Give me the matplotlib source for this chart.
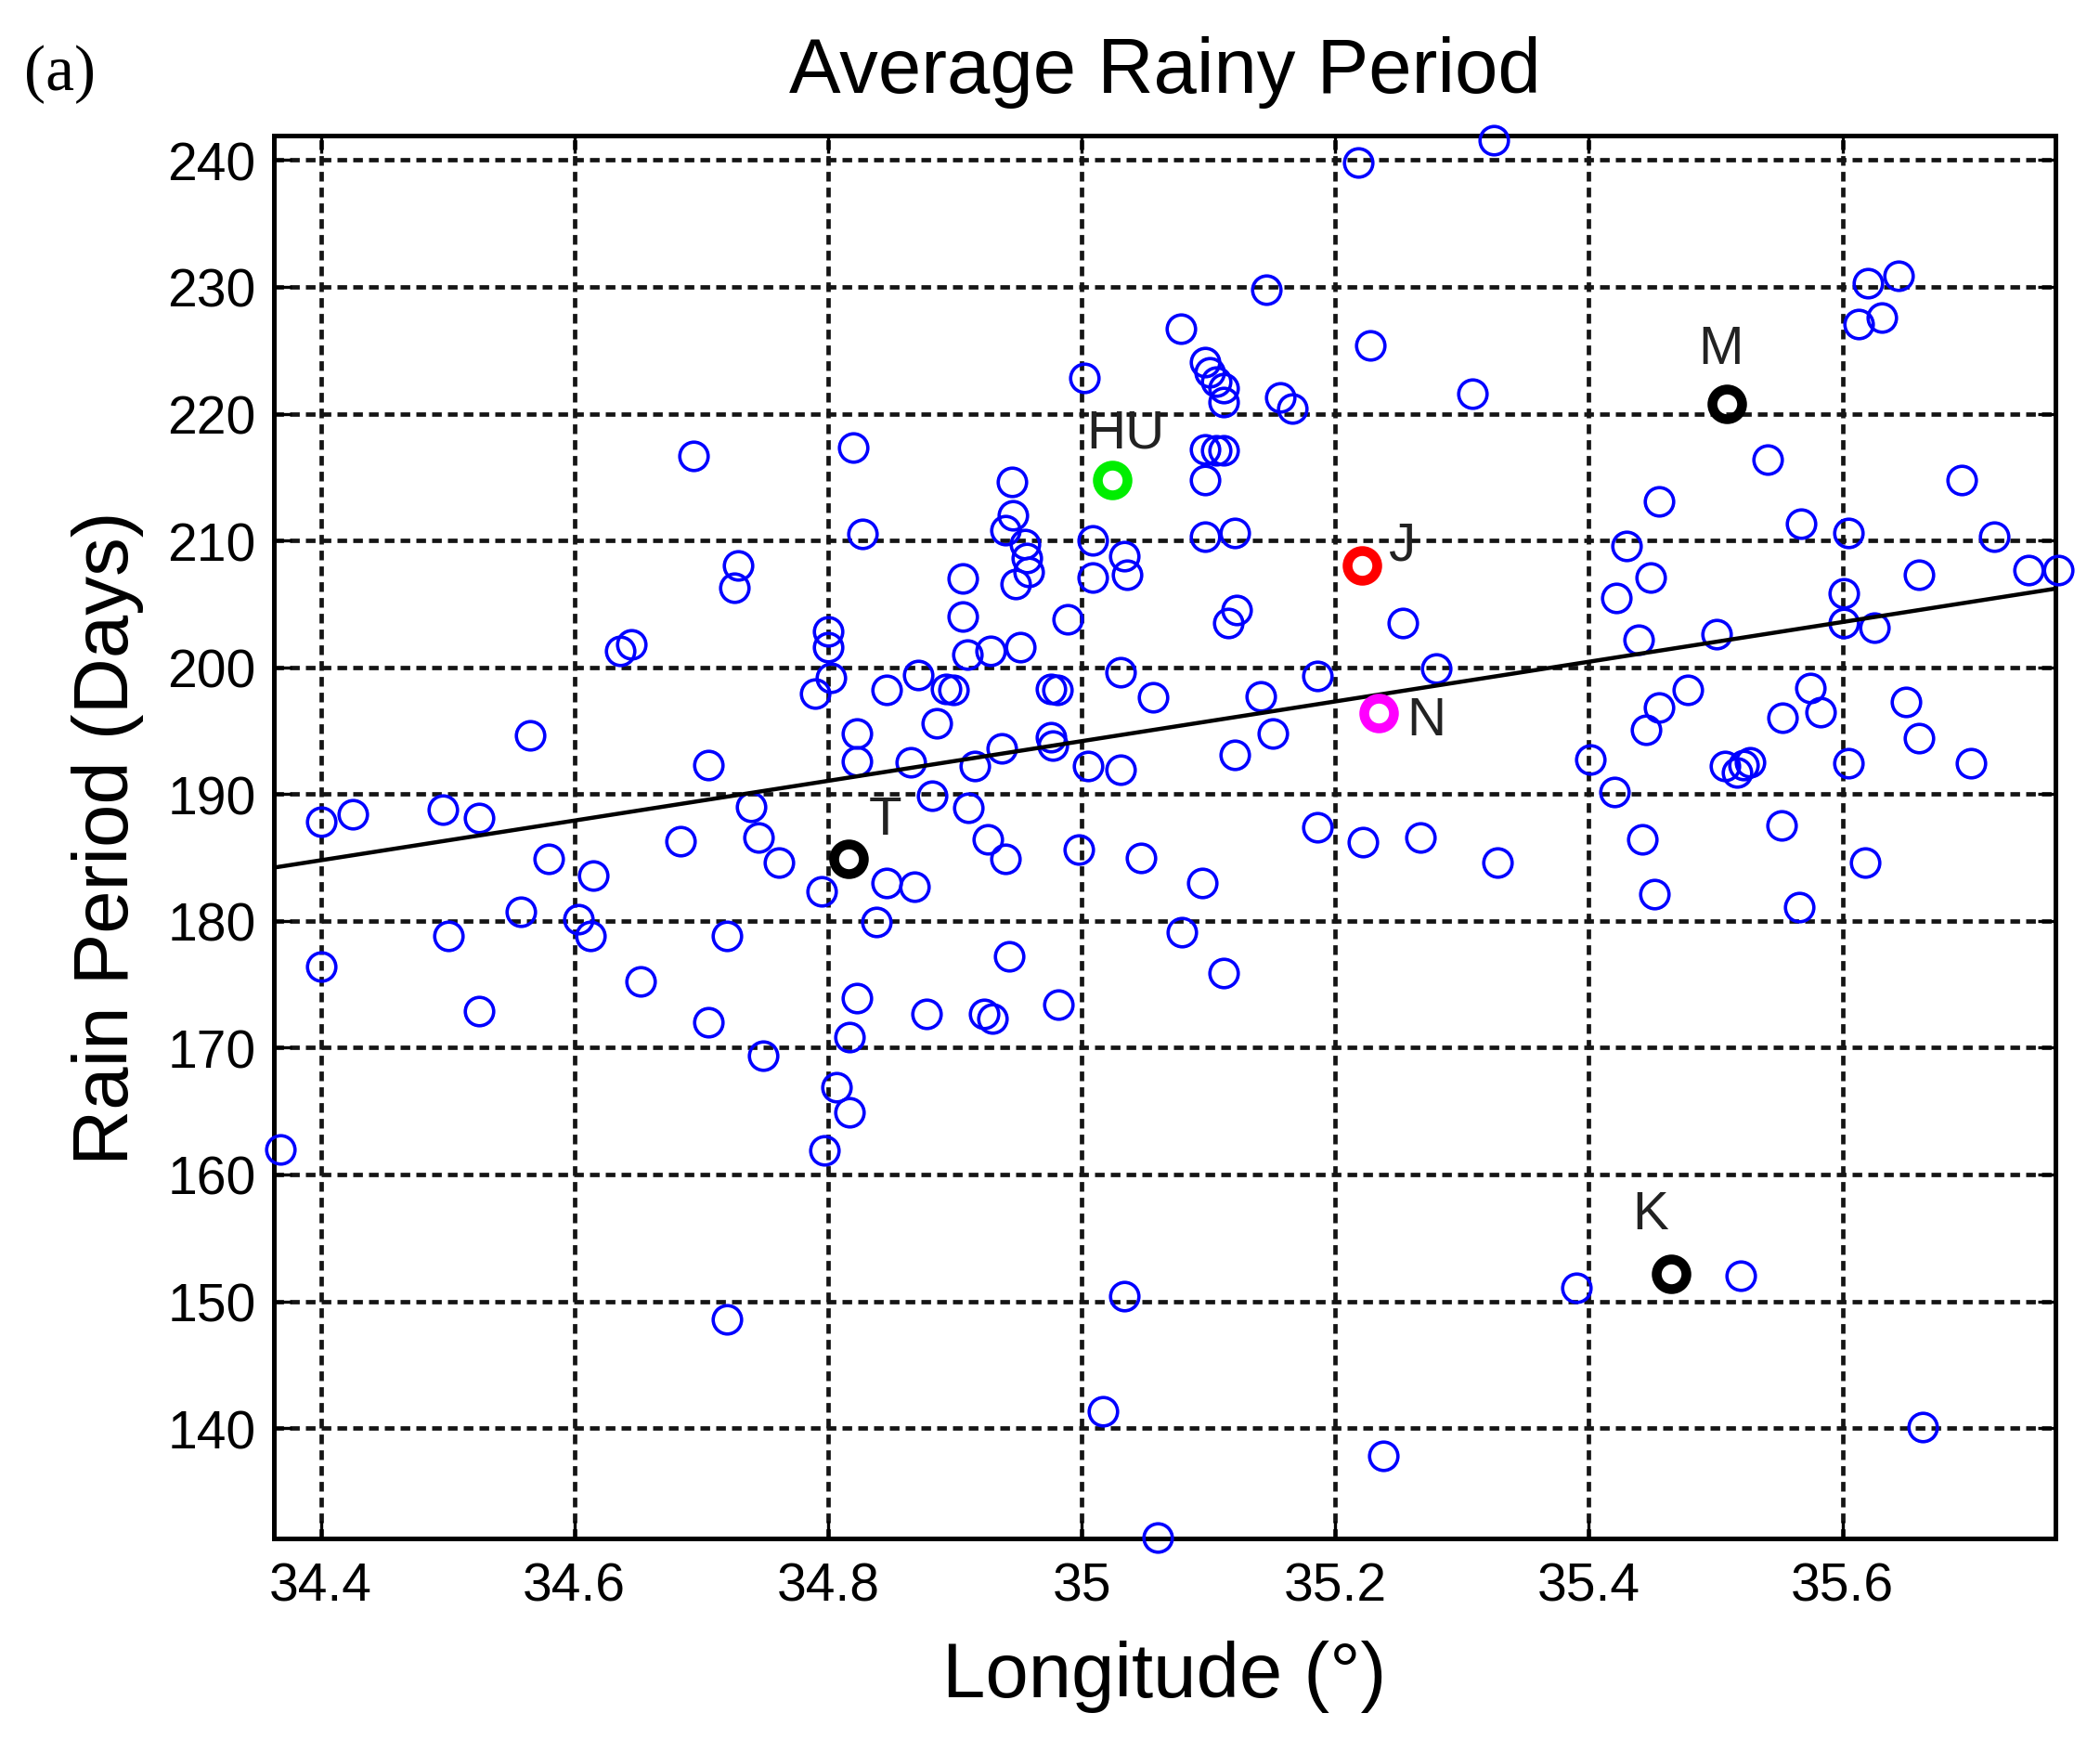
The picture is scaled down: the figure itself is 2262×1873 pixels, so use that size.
import numpy as np
import matplotlib
matplotlib.use("Agg")
import matplotlib.pyplot as plt
from matplotlib.ticker import FuncFormatter

plt.rcParams['font.family'] = ['Liberation Sans', 'DejaVu Sans']

# stations (blue circles): longitude and mean rainy period in days
lon = [34.368, 34.400, 34.400, 34.425, 34.496, 34.525, 34.501, 34.525, 34.565, 34.580,
       34.558, 34.603, 34.613, 34.615, 34.636, 34.645, 34.652, 34.684, 34.694, 34.706,
       34.706, 34.729, 34.726, 34.720, 34.720, 34.739, 34.745, 34.761, 34.749, 34.790,
       34.800, 34.800, 34.802, 34.795, 34.807, 34.817, 34.797, 34.817, 34.823, 34.820,
       34.827, 34.823, 34.823, 34.838, 34.846, 34.868, 34.846, 34.871, 34.865, 34.886,
       34.882, 34.878, 34.893, 34.899, 34.906, 34.906, 34.910, 34.911, 34.916, 34.926,
       34.940, 34.923, 34.930, 34.943, 34.928, 34.946, 34.940, 34.955, 34.957, 34.958,
       34.948, 34.945, 34.952, 34.937, 34.976, 34.981, 34.976, 34.977, 34.989, 34.982,
       34.998, 35.002, 35.009, 35.009, 35.005, 35.031, 35.034, 35.036, 35.031, 35.047,
       35.056, 35.034, 35.017, 35.060, 35.078, 35.079, 35.095, 35.097, 35.101, 35.106,
       35.112, 35.112, 35.097, 35.097, 35.106, 35.112, 35.097, 35.121, 35.122, 35.116,
       35.121, 35.112, 35.146, 35.157, 35.166, 35.141, 35.151, 35.186, 35.186, 35.218,
       35.228, 35.222, 35.253, 35.280, 35.267, 35.238, 35.308, 35.325, 35.328, 35.401,
       35.420, 35.390, 35.422, 35.430, 35.439, 35.449, 35.455, 35.455, 35.445, 35.442,
       35.452, 35.478, 35.501, 35.507, 35.517, 35.522, 35.527, 35.520, 35.541, 35.553,
       35.552, 35.567, 35.575, 35.583, 35.566, 35.605, 35.601, 35.601, 35.605, 35.618,
       35.625, 35.613, 35.620, 35.631, 35.644, 35.650, 35.660, 35.660, 35.663, 35.694,
       35.701, 35.720, 35.747, 35.770]
days = [162.0, 176.4, 187.8, 188.4, 188.8, 188.1, 178.8, 172.9, 194.6, 184.9,
        180.7, 180.1, 178.8, 183.6, 201.3, 201.8, 175.2, 186.3, 216.7, 192.3,
        172.0, 208.0, 206.3, 178.8, 148.6, 189.0, 186.6, 184.6, 169.4, 197.9,
        202.8, 201.6, 199.2, 182.3, 166.9, 164.9, 161.9, 170.8, 173.9, 217.3,
        210.5, 194.8, 192.6, 179.9, 183.0, 182.7, 198.2, 199.4, 192.5, 195.6,
        189.9, 172.7, 198.3, 198.2, 207.0, 204.0, 201.0, 188.9, 192.2, 186.4,
        184.9, 172.7, 172.3, 177.2, 201.3, 212.0, 210.8, 209.7, 208.6, 207.5,
        206.6, 214.6, 201.6, 193.6, 198.3, 198.2, 194.5, 193.8, 203.8, 173.4,
        185.6, 222.8, 210.0, 207.1, 192.2, 199.6, 208.8, 207.3, 191.9, 185.0,
        197.6, 150.4, 141.3, 131.4, 226.7, 179.1, 183.0, 224.1, 223.3, 222.5,
        222.0, 220.9, 214.8, 217.2, 217.1, 217.1, 210.3, 210.6, 204.5, 203.5,
        193.1, 175.9, 229.8, 221.3, 220.4, 197.7, 194.8, 199.3, 187.4, 239.8,
        225.4, 186.2, 203.5, 199.9, 186.6, 137.8, 221.6, 241.6, 184.6, 192.7,
        190.2, 151.1, 205.5, 209.6, 202.2, 207.1, 213.1, 196.8, 195.1, 186.4,
        182.1, 198.2, 202.6, 192.2, 191.7, 192.3, 192.5, 152.0, 216.4, 196.0,
        187.5, 211.3, 198.4, 196.5, 181.1, 210.6, 205.8, 203.5, 192.4, 184.6,
        203.1, 227.1, 230.3, 227.6, 230.9, 197.3, 207.3, 194.4, 140.1, 214.8,
        192.4, 210.3, 207.7, 207.7]

# highlighted stations
key_names = ['T', 'M', 'K', 'HU', 'J', 'N']
key_lon = [34.816, 35.509, 35.465, 35.024, 35.221, 35.234]
key_days = [184.9, 220.8, 152.2, 214.8, 208.0, 196.4]
key_colors = ['black', 'black', 'black', '#00ee00', 'red', 'magenta']
# label offsets in points
key_offsets = [(8, 15), (-11, 21), (-15, 23), (-10, 18), (10, 8), (11, -3)]

# regression line end points
fit_lon = [34.363, 35.768]
fit_days = [184.2, 206.2]

fig = plt.figure(figsize=(11.31, 9.37), dpi=200)
ax = fig.add_axes([0.1304, 0.1153, 0.8484, 0.806])

ax.plot(lon, days, 'o', ms=11, mfc='none', mec='blue', mew=1.3, clip_on=False, zorder=3)
ax.plot(fit_lon, fit_days, '-', color='black', lw=1.6, zorder=4)

for name, x, y, c, off in zip(key_names, key_lon, key_days, key_colors, key_offsets):
    ax.plot(x, y, 'o', ms=11.5, mfc='none', mec=c, mew=3.8, zorder=5)
    ax.annotate(name, (x, y), xytext=off, textcoords='offset points',
                ha='left', va='center', fontsize=21, color='#222222')

ax.set_xlim(34.363, 35.768)
ax.set_ylim(131.3, 241.9)
ax.set_xticks([34.4, 34.6, 34.8, 35.0, 35.2, 35.4, 35.6])
ax.set_yticks(np.arange(140, 241, 10))
ax.xaxis.set_major_formatter(FuncFormatter(lambda v, p: '%g' % v))
ax.tick_params(direction='in', length=7, width=1.2, top=True, right=True,
               labelsize=20.5, pad=9)
ax.tick_params(axis='y', pad=7)
for s in ax.spines.values():
    s.set_linewidth(1.8)

ax.grid(True, color='#151515', lw=1.7, linestyle=(0, (2.2, 1.4)))
ax.set_axisbelow(True)

ax.set_xlabel('Longitude (°)', fontsize=30, labelpad=11)
ax.set_ylabel('Rain Period (Days)', fontsize=30, labelpad=9)
ax.set_title('Average Rainy Period', fontsize=30, pad=17)

fig.text(0.0115, 0.957, '(a)', family='Liberation Serif', fontsize=25,
         ha='left', va='center')

fig.savefig('out.png', dpi=200)
